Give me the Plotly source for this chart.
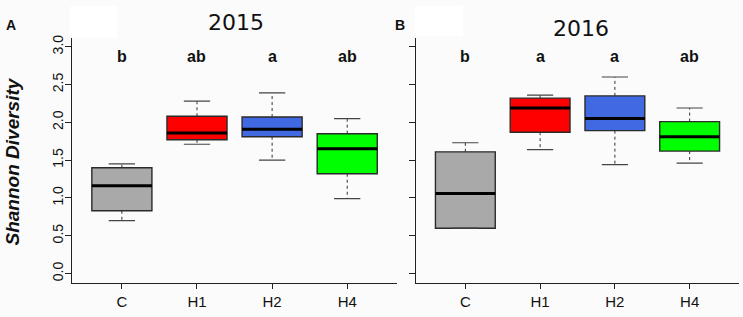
import plotly.graph_objects as go

W, H = 743, 317

categories = ["C", "H1", "H2", "H4"]
colors = ["#A9A9A9", "#FF0000", "#4169E1", "#00FF00"]

# 2015 panel (A)
lower_2015 = [0.70, 1.71, 1.50, 0.99]
q1_2015 = [0.83, 1.77, 1.81, 1.32]
median_2015 = [1.16, 1.86, 1.91, 1.65]
q3_2015 = [1.40, 2.08, 2.07, 1.85]
upper_2015 = [1.45, 2.28, 2.39, 2.05]
letters_2015 = ["b", "ab", "a", "ab"]

# 2016 panel (B)
lower_2016 = [0.60, 1.64, 1.44, 1.46]
q1_2016 = [0.60, 1.87, 1.89, 1.62]
median_2016 = [1.06, 2.19, 2.05, 1.81]
q3_2016 = [1.61, 2.32, 2.35, 2.01]
upper_2016 = [1.73, 2.36, 2.60, 2.19]
letters_2016 = ["b", "a", "a", "ab"]

y_ticks = [0.0, 0.5, 1.0, 1.5, 2.0, 2.5, 3.0]
letter_y = 2.87

panels = [
    ("2015", "A", lower_2015, q1_2015, median_2015, q3_2015, upper_2015, letters_2015),
    ("2016", "B", lower_2016, q1_2016, median_2016, q3_2016, upper_2016, letters_2016),
]

fig = go.Figure()
BOX_W = 0.8
CAP_HW = 0.175
EDGE = "#2a2a2a"

for p, (title, tag, lo, q1, med, q3, up, lets) in enumerate(panels):
    xa = "x" if p == 0 else "x2"
    ya = "y" if p == 0 else "y2"
    pos = list(range(1, len(categories) + 1))
    for i, cat in enumerate(categories):
        x0 = pos[i]
        # whiskers (dashed)
        fig.add_trace(go.Scatter(
            x=[x0, x0, None, x0, x0], y=[q3[i], up[i], None, q1[i], lo[i]],
            mode="lines", line=dict(color="#333333", width=1, dash="3px,3px"),
            xaxis=xa, yaxis=ya, showlegend=False, hoverinfo="skip"))
        # caps
        fig.add_trace(go.Scatter(
            x=[x0 - CAP_HW, x0 + CAP_HW, None, x0 - CAP_HW, x0 + CAP_HW],
            y=[up[i], up[i], None, lo[i], lo[i]],
            mode="lines", line=dict(color="#444444", width=1.2),
            xaxis=xa, yaxis=ya, showlegend=False, hoverinfo="skip"))
        # box
        fig.add_trace(go.Box(
            x=[x0], q1=[q1[i]], median=[med[i]], q3=[q3[i]],
            lowerfence=[q1[i]], upperfence=[q3[i]],
            width=BOX_W, whiskerwidth=0, fillcolor=colors[i],
            line=dict(color=EDGE, width=1.4), boxpoints=False,
            xaxis=xa, yaxis=ya, showlegend=False, name=cat))
        # thick median
        fig.add_trace(go.Scatter(
            x=[x0 - BOX_W / 2, x0 + BOX_W / 2], y=[med[i], med[i]],
            mode="lines", line=dict(color="#000000", width=3),
            xaxis=xa, yaxis=ya, showlegend=False, hoverinfo="skip"))
        fig.add_annotation(x=x0, y=letter_y, xref=xa, yref=ya, text="<b>%s</b>" % lets[i],
                           showarrow=False, xanchor="center", yanchor="middle",
                           font=dict(family="Liberation Sans, Arial", size=16, color="#111111"))

def px_x(v):
    return v / W

def px_y(v):
    return 1 - v / H

axis_common = dict(showline=True, linecolor="#222222", linewidth=1, ticks="outside",
                   tickcolor="#222222", showgrid=False, zeroline=False)
xfont = dict(family="Liberation Sans, Arial", size=15, color="#111111")
yfont = dict(family="Liberation Sans, Arial", size=14, color="#111111")

xrng = [0.34, 4.66]
yrng = [-0.12, 3.12]

fig.update_layout(
    width=W, height=H,
    margin=dict(l=0, r=0, t=0, b=0),
    paper_bgcolor="#fbfbfb", plot_bgcolor="#fbfbfb",
    boxmode="overlay",
    xaxis=dict(domain=[px_x(72.3), px_x(396.8)], range=xrng, tickvals=[1, 2, 3, 4],
               ticktext=categories, ticklen=5, anchor="y", tickfont=xfont, **axis_common),
    yaxis=dict(domain=[px_y(282.3), px_y(35)], range=yrng, tickvals=y_ticks,
               ticktext=["%.1f" % v for v in y_ticks], ticklen=6, tickangle=-90,
               ticklabelstandoff=-3,
               anchor="x", tickfont=yfont, **axis_common),
    xaxis2=dict(domain=[px_x(416), px_x(739)], range=xrng, tickvals=[1, 2, 3, 4],
                ticktext=categories, ticklen=5, anchor="y2", tickfont=xfont, **axis_common),
    yaxis2=dict(domain=[px_y(282.3), px_y(35)], range=yrng, tickvals=y_ticks,
                showticklabels=False, ticklen=6, anchor="x2", **axis_common),
)

# white patches at top-left of each panel
fig.add_shape(type="rect", xref="paper", yref="paper", x0=px_x(70), x1=px_x(117),
              y0=px_y(35), y1=px_y(3), fillcolor="#ffffff", line=dict(width=0), layer="below")
fig.add_shape(type="rect", xref="paper", yref="paper", x0=px_x(415), x1=px_x(463),
              y0=px_y(33), y1=px_y(3), fillcolor="#ffffff", line=dict(width=0), layer="below")

def paper_text(x, y, text, font, angle=0):
    fig.add_annotation(x=px_x(x), y=px_y(y), xref="paper", yref="paper", text=text,
                       showarrow=False, xanchor="center", yanchor="middle", textangle=angle,
                       font=font)

# titles and panel tags
paper_text(236, 19.5, "2015", dict(family="DejaVu Sans", size=22, color="#111111"))
paper_text(580.5, 25.5, "2016", dict(family="DejaVu Sans", size=22, color="#111111"))
paper_text(10.5, 22.5, "<b>A</b>", dict(family="Liberation Sans, Arial", size=14, color="#111111"))
paper_text(400, 22.5, "<b>B</b>", dict(family="Liberation Sans, Arial", size=14, color="#111111"))
paper_text(12, 160, "<b><i>Shannon Diversity</i></b>",
           dict(family="Liberation Sans, Arial", size=19, color="#111111"), angle=-90)

fig.write_html("out.html", config={"displayModeBar": False},
               post_script="document.body.style.margin='0';document.body.style.padding='0';"
                           "document.body.style.overflow='hidden';")
